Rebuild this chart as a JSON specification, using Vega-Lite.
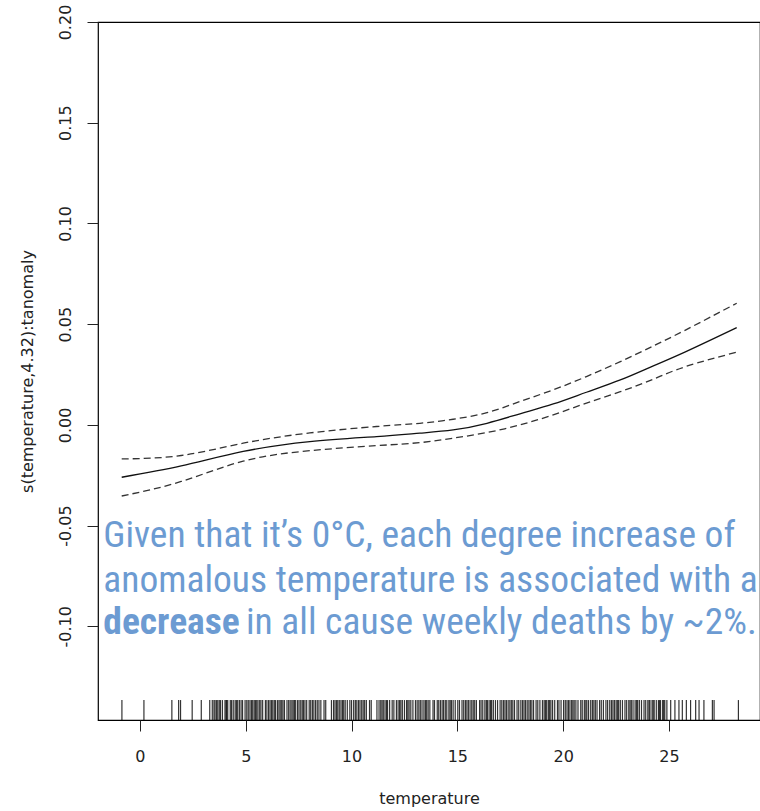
{
  "$schema": "https://vega.github.io/schema/vega-lite/v6.json",
  "width": 662,
  "height": 698,
  "autosize": {"type": "none"},
  "padding": {"left": 98, "top": 22, "right": 0, "bottom": 91},
  "background": "white",
  "config": {
    "view": {"stroke": "#000", "strokeWidth": 1.2},
    "axis": {
      "labelFont": "DejaVu Sans",
      "titleFont": "DejaVu Sans",
      "labelFontSize": 16,
      "titleFontSize": 16,
      "labelColor": "#222",
      "titleColor": "#222",
      "titleFontWeight": "normal",
      "tickColor": "#222",
      "tickSize": 11,
      "domain": false,
      "grid": false
    }
  },
  "datasets": {
    "curve": [
      {"temperature": -0.86, "fit": -0.026, "upper": -0.0169, "lower": -0.0353},
      {"temperature": 1.95, "fit": -0.0204, "upper": -0.0152, "lower": -0.0281},
      {"temperature": 4.88, "fit": -0.0132, "upper": -0.0091, "lower": -0.0180},
      {"temperature": 8.03, "fit": -0.0083, "upper": -0.0040, "lower": -0.0128},
      {"temperature": 11.18, "fit": -0.0058, "upper": -0.0008, "lower": -0.0103},
      {"temperature": 13.23, "fit": -0.0041, "upper": 0.0008, "lower": -0.0088},
      {"temperature": 14.8, "fit": -0.0025, "upper": 0.0028, "lower": -0.0066},
      {"temperature": 16.4, "fit": 0.0008, "upper": 0.0061, "lower": -0.0038},
      {"temperature": 17.96, "fit": 0.0055, "upper": 0.0116, "lower": 0.0},
      {"temperature": 19.53, "fit": 0.0104, "upper": 0.0174, "lower": 0.005},
      {"temperature": 21.1, "fit": 0.0162, "upper": 0.024, "lower": 0.0108},
      {"temperature": 22.7, "fit": 0.0223, "upper": 0.0314, "lower": 0.0165},
      {"temperature": 24.26, "fit": 0.0293, "upper": 0.0392, "lower": 0.0227},
      {"temperature": 25.8, "fit": 0.0364, "upper": 0.0472, "lower": 0.029},
      {"temperature": 28.2, "fit": 0.0483, "upper": 0.0604, "lower": 0.0361}
    ],
    "rug": [
      {"temperature": -0.85}, {"temperature": 0.19}, {"temperature": 1.51}, {"temperature": 1.83}, {"temperature": 1.92}, {"temperature": 2.47}, {"temperature": 2.9},
      {"temperature": 3.3}, {"temperature": 3.42}, {"temperature": 3.5}, {"temperature": 3.55}, {"temperature": 3.68}, {"temperature": 3.75}, {"temperature": 3.81}, {"temperature": 3.9}, {"temperature": 4.02}, {"temperature": 4.1}, {"temperature": 4.15}, {"temperature": 4.27}, {"temperature": 4.33}, {"temperature": 4.41}, {"temperature": 4.5}, {"temperature": 4.62}, {"temperature": 4.7}, {"temperature": 4.78}, {"temperature": 4.85}, {"temperature": 4.97}, {"temperature": 5.05}, {"temperature": 5.12}, {"temperature": 5.2}, {"temperature": 5.33}, {"temperature": 5.4}, {"temperature": 5.46}, {"temperature": 5.58}, {"temperature": 5.66}, {"temperature": 5.72}, {"temperature": 5.8}, {"temperature": 5.93}, {"temperature": 6.0}, {"temperature": 6.08}, {"temperature": 6.15}, {"temperature": 6.22}, {"temperature": 6.35}, {"temperature": 6.41}, {"temperature": 6.5}, {"temperature": 6.57}, {"temperature": 6.7}, {"temperature": 6.76}, {"temperature": 6.83}, {"temperature": 6.95}, {"temperature": 7.03}, {"temperature": 7.1}, {"temperature": 7.18}, {"temperature": 7.3}, {"temperature": 7.36}, {"temperature": 7.45}, {"temperature": 7.52}, {"temperature": 7.6}, {"temperature": 7.73}, {"temperature": 7.8}, {"temperature": 7.88}, {"temperature": 8.0}, {"temperature": 8.07}, {"temperature": 8.15}, {"temperature": 8.3}, {"temperature": 8.38}, {"temperature": 8.46}, {"temperature": 8.55}, {"temperature": 8.7}, {"temperature": 8.78}, {"temperature": 9.05}, {"temperature": 9.15}, {"temperature": 9.22}, {"temperature": 9.35}, {"temperature": 9.42}, {"temperature": 9.5}, {"temperature": 9.63}, {"temperature": 9.7}, {"temperature": 9.8}, {"temperature": 9.92}, {"temperature": 10.0}, {"temperature": 10.1}, {"temperature": 10.25}, {"temperature": 10.33}, {"temperature": 10.4}, {"temperature": 10.55}, {"temperature": 10.62}, {"temperature": 10.7}, {"temperature": 10.85}, {"temperature": 10.93}, {"temperature": 11.2}, {"temperature": 11.3}, {"temperature": 11.38}, {"temperature": 11.5}, {"temperature": 11.58}, {"temperature": 11.7}, {"temperature": 11.8}, {"temperature": 11.92}, {"temperature": 12.0}, {"temperature": 12.12}, {"temperature": 12.2}, {"temperature": 12.33}, {"temperature": 12.4}, {"temperature": 12.5}, {"temperature": 12.6}, {"temperature": 12.72}, {"temperature": 12.8}, {"temperature": 12.9}, {"temperature": 13.02}, {"temperature": 13.1}, {"temperature": 13.25}, {"temperature": 13.33}, {"temperature": 13.42}, {"temperature": 13.55}, {"temperature": 13.62}, {"temperature": 13.7}, {"temperature": 13.85}, {"temperature": 13.92}, {"temperature": 14.05}, {"temperature": 14.12}, {"temperature": 14.2}, {"temperature": 14.35}, {"temperature": 14.43}, {"temperature": 14.5}, {"temperature": 14.6}, {"temperature": 14.72}, {"temperature": 14.8}, {"temperature": 14.9}, {"temperature": 15.02}, {"temperature": 15.1}, {"temperature": 15.22}, {"temperature": 15.3}, {"temperature": 15.45}, {"temperature": 15.52}, {"temperature": 15.6}, {"temperature": 15.75}, {"temperature": 15.82}, {"temperature": 15.9}, {"temperature": 16.05}, {"temperature": 16.12}, {"temperature": 16.2}, {"temperature": 16.3}, {"temperature": 16.42}, {"temperature": 16.5}, {"temperature": 16.62}, {"temperature": 16.7}, {"temperature": 16.8}, {"temperature": 16.9}, {"temperature": 17.02}, {"temperature": 17.1}, {"temperature": 17.25}, {"temperature": 17.32}, {"temperature": 17.4}, {"temperature": 17.55}, {"temperature": 17.62}, {"temperature": 17.7}, {"temperature": 17.82}, {"temperature": 17.9}, {"temperature": 18.0}, {"temperature": 18.15}, {"temperature": 18.22}, {"temperature": 18.3}, {"temperature": 18.45}, {"temperature": 18.52}, {"temperature": 18.6}, {"temperature": 18.72}, {"temperature": 18.8}, {"temperature": 18.9}, {"temperature": 19.02}, {"temperature": 19.1}, {"temperature": 19.22}, {"temperature": 19.3}, {"temperature": 19.42}, {"temperature": 19.5}, {"temperature": 19.6}, {"temperature": 19.73}, {"temperature": 19.8}, {"temperature": 19.9}, {"temperature": 20.02}, {"temperature": 20.1}, {"temperature": 20.25}, {"temperature": 20.32}, {"temperature": 20.4}, {"temperature": 20.52}, {"temperature": 20.6}, {"temperature": 20.7}, {"temperature": 20.83}, {"temperature": 20.9}, {"temperature": 21.0}, {"temperature": 21.12}, {"temperature": 21.2}, {"temperature": 21.3}, {"temperature": 21.45}, {"temperature": 21.52}, {"temperature": 21.6}, {"temperature": 21.72}, {"temperature": 21.8}, {"temperature": 21.9}, {"temperature": 22.02}, {"temperature": 22.1}, {"temperature": 22.2}, {"temperature": 22.35}, {"temperature": 22.42}, {"temperature": 22.5}, {"temperature": 22.62}, {"temperature": 22.7}, {"temperature": 22.8}, {"temperature": 22.92}, {"temperature": 23.0}, {"temperature": 23.1}, {"temperature": 23.22}, {"temperature": 23.3}, {"temperature": 23.4}, {"temperature": 23.52}, {"temperature": 23.6}, {"temperature": 23.7}, {"temperature": 23.82}, {"temperature": 23.9}, {"temperature": 24.0}, {"temperature": 24.1}, {"temperature": 24.2}, {"temperature": 24.3}, {"temperature": 24.4}, {"temperature": 24.5}, {"temperature": 24.6}, {"temperature": 24.7}, {"temperature": 24.8}, {"temperature": 24.9},
      {"temperature": 3.62}, {"temperature": 4.07}, {"temperature": 4.56}, {"temperature": 5.27}, {"temperature": 5.52}, {"temperature": 6.28}, {"temperature": 6.63}, {"temperature": 7.24}, {"temperature": 7.67}, {"temperature": 8.22}, {"temperature": 9.29}, {"temperature": 9.57}, {"temperature": 10.18}, {"temperature": 10.48}, {"temperature": 11.44}, {"temperature": 11.65}, {"temperature": 12.27}, {"temperature": 12.66}, {"temperature": 13.18}, {"temperature": 13.49}, {"temperature": 14.28}, {"temperature": 14.66}, {"temperature": 15.38}, {"temperature": 15.68}, {"temperature": 16.37}, {"temperature": 16.57}, {"temperature": 17.18}, {"temperature": 17.48}, {"temperature": 18.08}, {"temperature": 18.38}, {"temperature": 19.16}, {"temperature": 19.36}, {"temperature": 20.18}, {"temperature": 20.46}, {"temperature": 21.07}, {"temperature": 21.38}, {"temperature": 22.28}, {"temperature": 22.56}, {"temperature": 23.16}, {"temperature": 23.47}, {"temperature": 24.06}, {"temperature": 24.25}, {"temperature": 24.55}, {"temperature": 24.75},
      {"temperature": 25.08}, {"temperature": 25.28}, {"temperature": 25.47}, {"temperature": 25.63}, {"temperature": 25.82}, {"temperature": 26.02}, {"temperature": 26.26}, {"temperature": 26.42}, {"temperature": 26.65}, {"temperature": 27.05}, {"temperature": 27.13}, {"temperature": 28.28}
    ]
  },
  "layer": [
    {
      "data": {"name": "rug"},
      "mark": {"type": "rule", "color": "#000", "strokeWidth": 1.2, "opacity": 0.8},
      "encoding": {
        "x": {"field": "temperature", "type": "quantitative",
              "scale": {"domain": [-1.98, 29.3], "nice": false, "zero": false},
              "axis": {"title": "temperature", "values": [0, 5, 10, 15, 20, 25], "labelPadding": 17, "titlePadding": 26}},
        "y": {"datum": -0.1465, "type": "quantitative",
              "scale": {"domain": [-0.1465, 0.2], "nice": false, "zero": false},
              "axis": {"title": "s(temperature,4.32):tanomaly", "values": [-0.1, -0.05, 0, 0.05, 0.1, 0.15, 0.2],
                       "labelExpr": "replace(format(datum.value, '.2f'), '\u2212', '-')",
                       "labelAngle": -90, "labelAlign": "center", "labelBaseline": "bottom", "labelPadding": 14, "titlePadding": 22}},
        "y2": {"datum": -0.1366}
      }
    },
    {
      "data": {"name": "curve"},
      "mark": {"type": "line", "color": "#111", "strokeWidth": 1.3, "interpolate": "natural"},
      "encoding": {
        "x": {"field": "temperature", "type": "quantitative"},
        "y": {"field": "fit", "type": "quantitative"}
      }
    },
    {
      "data": {"name": "curve"},
      "mark": {"type": "line", "color": "#333", "strokeWidth": 1.3, "strokeDash": [7, 4], "interpolate": "natural"},
      "encoding": {
        "x": {"field": "temperature", "type": "quantitative"},
        "y": {"field": "upper", "type": "quantitative"}
      }
    },
    {
      "data": {"name": "curve"},
      "mark": {"type": "line", "color": "#333", "strokeWidth": 1.3, "strokeDash": [7, 4], "interpolate": "natural"},
      "encoding": {
        "x": {"field": "temperature", "type": "quantitative"},
        "y": {"field": "lower", "type": "quantitative"}
      }
    },
    {
      "data": {"values": [{"t": "Given that it\u2019s 0\u00b0C, each degree increase of"}]},
      "mark": {"type": "text", "font": "Roboto Condensed, Liberation Sans Narrow, DejaVu Sans Condensed, Roboto", "fontSize": 37.5, "color": "#6c9bd2", "align": "left", "baseline": "alphabetic"},
      "encoding": {"text": {"field": "t"}, "x": {"datum": -1.73, "type": "quantitative"}, "y": {"datum": -0.0606, "type": "quantitative"}}
    },
    {
      "data": {"values": [{"t": "anomalous temperature is associated with a"}]},
      "mark": {"type": "text", "font": "Roboto Condensed, Liberation Sans Narrow, DejaVu Sans Condensed, Roboto", "fontSize": 37.5, "color": "#6c9bd2", "align": "left", "baseline": "alphabetic"},
      "encoding": {"text": {"field": "t"}, "x": {"datum": -1.73, "type": "quantitative"}, "y": {"datum": -0.0829, "type": "quantitative"}}
    },
    {
      "data": {"values": [{"t": "decrease"}]},
      "mark": {"type": "text", "font": "Roboto Condensed, Liberation Sans Narrow, DejaVu Sans Condensed, Roboto", "fontSize": 37.5, "fontWeight": "bold", "color": "#6c9bd2", "align": "left", "baseline": "alphabetic"},
      "encoding": {"text": {"field": "t"}, "x": {"datum": -1.73, "type": "quantitative"}, "y": {"datum": -0.1040, "type": "quantitative"}}
    },
    {
      "data": {"values": [{"t": "in all cause weekly deaths by ~2%."}]},
      "mark": {"type": "text", "font": "Roboto Condensed, Liberation Sans Narrow, DejaVu Sans Condensed, Roboto", "fontSize": 37.5, "color": "#6c9bd2", "align": "left", "baseline": "alphabetic"},
      "encoding": {"text": {"field": "t"}, "x": {"datum": 5.01, "type": "quantitative"}, "y": {"datum": -0.1040, "type": "quantitative"}}
    }
  ]
}
